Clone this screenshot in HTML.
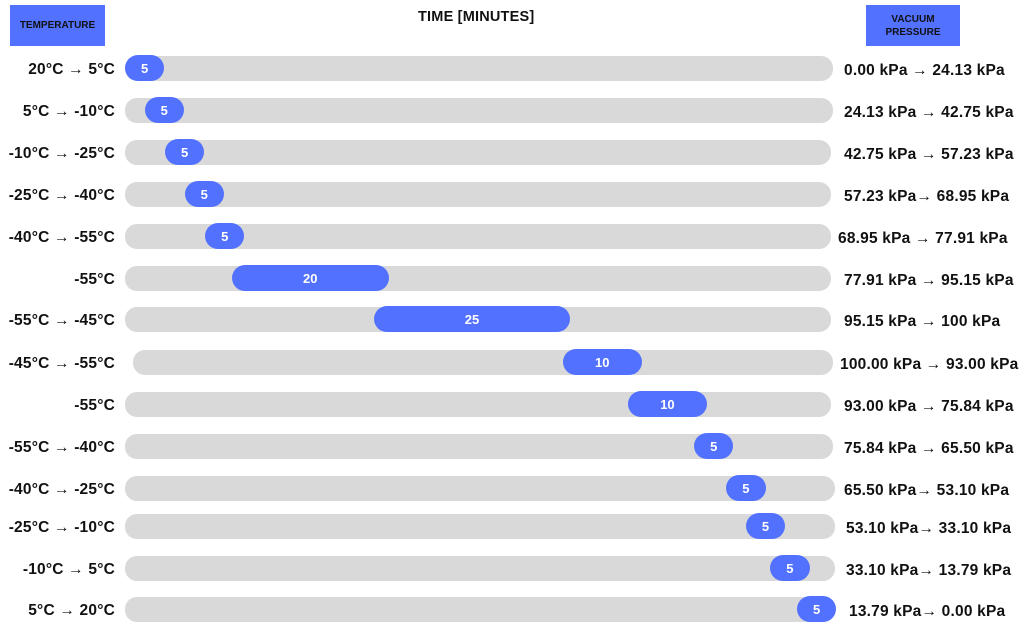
<!DOCTYPE html>
<html><head><meta charset="utf-8">
<style>
body{margin:0;width:1024px;height:627px;background:#fff;font-family:"Liberation Sans",sans-serif;position:relative;overflow:hidden}
.box{position:absolute;background:#5271ff;color:#111;font-weight:bold;font-size:10px;display:flex;align-items:center;justify-content:center;text-align:center;line-height:13px}
.t{position:absolute;font-weight:bold;font-size:15.5px;color:#111;white-space:nowrap;letter-spacing:0.2px}
.track{position:absolute;background:#d9d9d9;border-radius:12px;height:25px}
.bar{position:absolute;background:#5271ff;border-radius:13px;height:26px;color:#fff;font-size:13px;font-weight:bold;display:flex;align-items:center;justify-content:center}
</style></head><body>
<div class="box" style="left:10px;top:5px;width:95px;height:41px">TEMPERATURE</div>
<div class="box" style="left:866px;top:5px;width:94px;height:41px">VACUUM<br>PRESSURE</div>
<div class="t" style="left:418px;top:9px;font-size:14.5px">TIME [MINUTES]</div>
<div id="chart"></div>
<script>
const tempLabels=["20°C → 5°C","5°C → -10°C","-10°C → -25°C","-25°C → -40°C","-40°C → -55°C","-55°C","-55°C → -45°C","-45°C → -55°C","-55°C","-55°C → -40°C","-40°C → -25°C","-25°C → -10°C","-10°C → 5°C","5°C → 20°C"];
const pressureLabels=["0.00 kPa → 24.13 kPa","24.13 kPa → 42.75 kPa","42.75 kPa → 57.23 kPa","57.23 kPa→ 68.95 kPa","68.95 kPa → 77.91 kPa","77.91 kPa → 95.15 kPa","95.15 kPa → 100 kPa","100.00 kPa → 93.00 kPa","93.00 kPa → 75.84 kPa","75.84 kPa → 65.50 kPa","65.50 kPa→ 53.10 kPa","53.10 kPa→ 33.10 kPa","33.10 kPa→ 13.79 kPa","13.79 kPa→ 0.00 kPa"];
const durations=[5,5,5,5,5,20,25,10,10,5,5,5,5,5];
const starts=[0,2.5,5.1,7.6,10.2,13.6,31.7,55.8,64.1,72.5,76.6,79.1,82.2,85.6];
const rowY=[68,110,152,194,236,278,319,362,404,446,488,526,568,609];
const trackX=[125,125,125,125,125,125,125,133,125,125,125,125,125,125];
const trackEnd=[833,833,831,831,831,831,831,833,831,833,835,835,835,835];
const rightX=[844,844,844,844,838,844,844,840,844,844,844,846,846,849];
const k=7.85, x0=125;
const xs=t=>x0+t*k;
const c=document.getElementById('chart');
for(let i=0;i<durations.length;i++){
  const y=rowY[i];
  const tr=document.createElement('div');tr.className='track';
  tr.style.cssText=`left:${trackX[i]}px;width:${trackEnd[i]-trackX[i]}px;top:${y-12.5}px`;
  
  
  c.appendChild(tr);
  const b=document.createElement('div');b.className='bar';
  b.style.cssText=`left:${xs(starts[i])}px;width:${durations[i]*k}px;top:${y-13}px`;
  b.textContent=durations[i];
  
  
  c.appendChild(b);
  const l=document.createElement('div');l.className='t';
  l.style.cssText=`right:${1024-115}px;top:${y-7}px`;
  l.textContent=tempLabels[i];
  
  
  c.appendChild(l);
  const r=document.createElement('div');r.className='t';
  r.style.cssText=`left:${rightX[i]}px;top:${y-6}px`;
  r.textContent=pressureLabels[i];
  
  
  c.appendChild(r);
}
</script>
</body></html>
